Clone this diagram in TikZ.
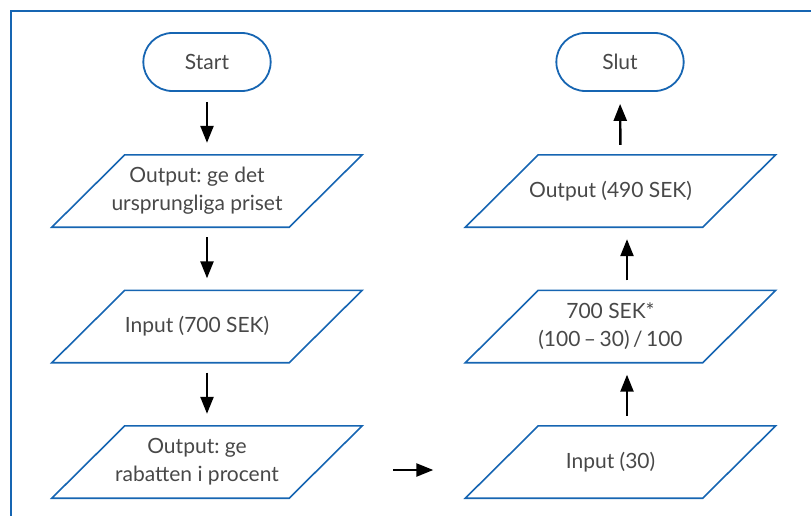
\documentclass[tikz,border=0pt]{standalone}
\usepackage{fontspec}
\setmainfont{Lato}
\usepackage{tikz}
\usetikzlibrary{arrows.meta}
\usetikzlibrary{shapes.misc}

\definecolor{flowblue}{RGB}{22,101,178}
\definecolor{flowtext}{RGB}{72,72,72}
\frenchspacing

\begin{document}
\begin{tikzpicture}[x=1pt,y=-1pt]
  \tikzset{terminal/.style = {shape=rounded rectangle,draw=flowblue,line width=1.8pt,minimum width=134pt,minimum height=58pt,text=flowtext,font=\fontsize{21}{28}\selectfont}}
  \tikzset{io/.style = {shape=rectangle,xshift=-10pt,minimum width=310pt,minimum height=72pt,inner sep=0pt,align=center,text=flowtext,font=\fontsize{21}{28}\selectfont}}
  \tikzset{ioline/.style = {draw=flowblue,line width=1.6pt,line join=miter}}
  \tikzset{edge/.style = {-{Triangle[length=17pt,width=13pt]},line width=2.4pt,shorten <=10pt,shorten >=12pt}}

  \useasboundingbox (0,0) rectangle (811,515);
  \clip (0,0) rectangle (811,515);
  \draw[flowblue,line width=1.8pt] (11,11) rectangle (840,540);

	\node[terminal] (start) at (207,62) {Start};
	\node[io] (p1) at (207,191) {Output: ge det\\ursprungliga priset};
	\node[io] (p2) at (207,326.5) {Input (700 SEK)};
	\node[io] (p3) at (207,462) {Output: ge\\rabatten i procent};

	\node[terminal] (slut) at (620,62) {Slut};
	\node[io] (out490) at (620.5,191) {Output (490 SEK)};
	\node[io] (calc) at (620.5,326.5) {700 SEK*\\(100\,–\,30)\,/\,100};
	\node[io] (in30) at (620.5,462) {Input (30)};

       \foreach \n in {p1,p2,p3,out490,calc,in30}
    \draw[ioline] ([xshift=83pt]\n.north west) -- ([xshift=10pt]\n.north east) -- ([xshift=-63pt]\n.south east) -- ([xshift=10pt]\n.south west) -- cycle;

    \draw[edge] (start.south) -- ([xshift=10pt]p1.north);
       \foreach \from/\to in {p1/p2, p2/p3}
    \draw[edge] ([xshift=10pt]\from.south) -- ([xshift=10pt]\to.north);

    \draw[edge] ([xshift=16.5pt]in30.north) -- ([xshift=16.5pt]calc.south);
    \draw[edge] ([xshift=16.5pt]calc.north) -- ([xshift=16.5pt]out490.south);
    \draw[edge] ([xshift=10pt]out490.north) -- (slut.south);
    \draw[edge,shorten <=41pt,shorten >=22pt] ([yshift=-8pt]p3.east) -- ([yshift=-8pt]in30.west);

\end{tikzpicture}
\end{document}
